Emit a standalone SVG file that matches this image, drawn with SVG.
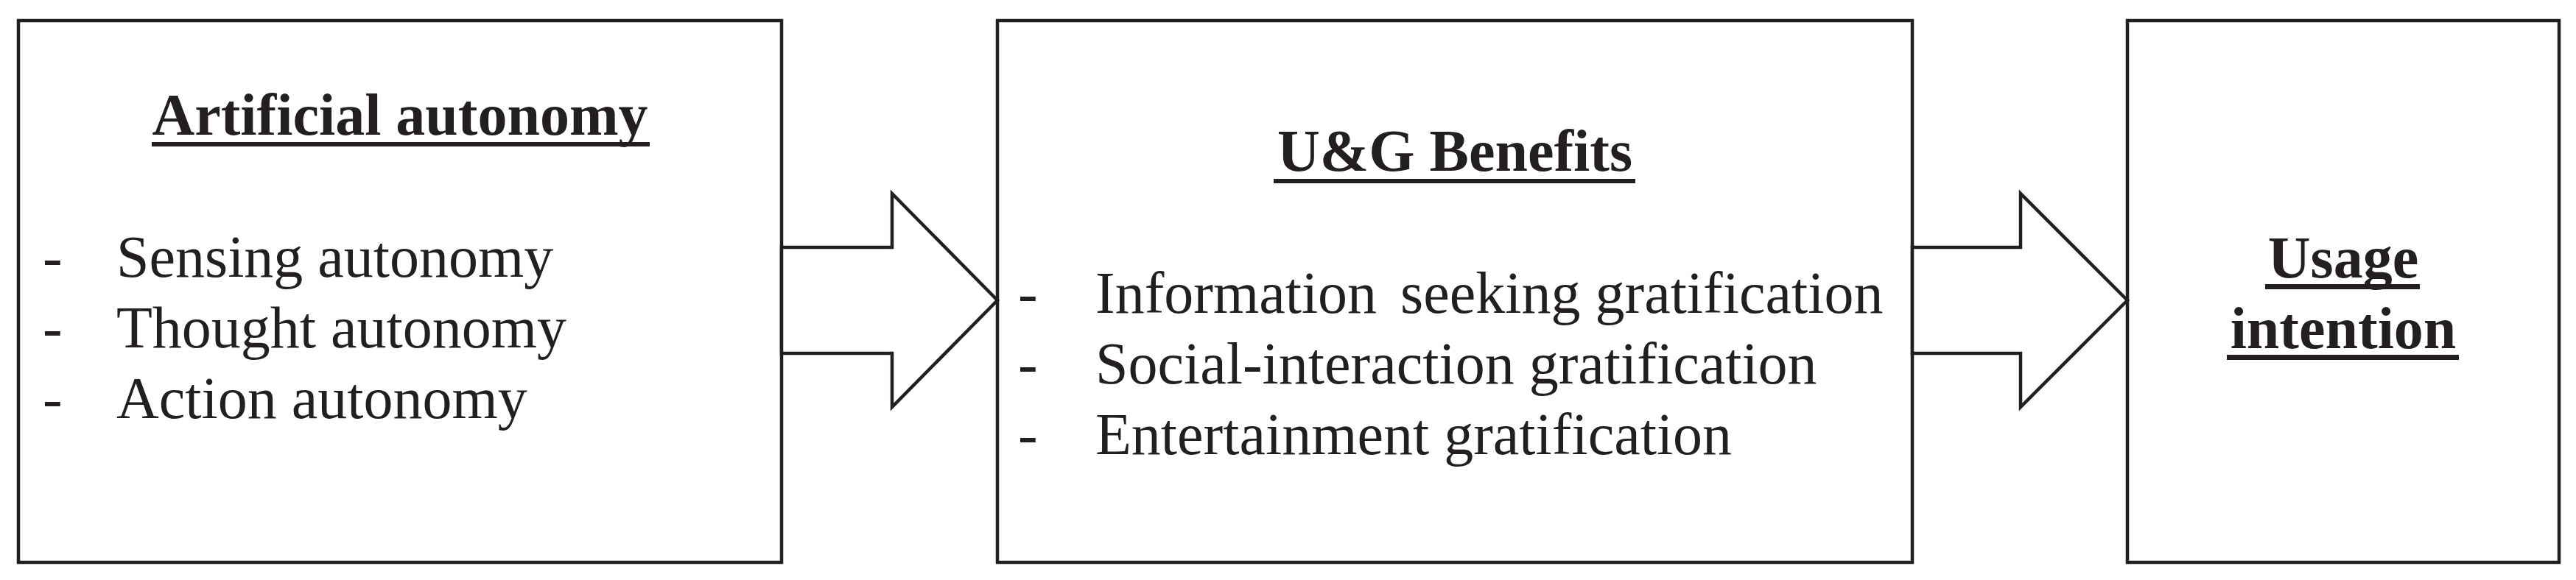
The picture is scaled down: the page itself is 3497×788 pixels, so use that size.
<svg xmlns="http://www.w3.org/2000/svg" width="3497" height="788" viewBox="0 0 3497 788">
  <style>
    .box { fill: #ffffff; stroke: #231f20; stroke-width: 4.5; }
    .arrow { fill: #ffffff; stroke: #231f20; stroke-width: 4.5; stroke-linejoin: miter; }
    .title { font-family: "Liberation Serif", "Times New Roman", serif; font-size: 80px; font-weight: bold; fill: #231f20; text-anchor: middle; }
    .item { font-family: "Liberation Serif", "Times New Roman", serif; font-size: 80px; fill: #231f20; }
    .ul { fill: #231f20; }
  </style>
  <rect x="0" y="0" width="3497" height="788" fill="#ffffff"/>

  <g id="node-artificial-autonomy">
    <rect class="box" x="25" y="28" width="1036" height="736"/>
    <text class="title" x="543" y="183">Artificial autonomy</text>
    <rect class="ul" x="206" y="193" width="676" height="6"/>
    <text class="item" x="58" y="376">-</text>
    <text class="item" x="158" y="376">Sensing autonomy</text>
    <text class="item" x="58" y="472">-</text>
    <text class="item" x="158" y="472">Thought autonomy</text>
    <text class="item" x="58" y="568">-</text>
    <text class="item" x="158" y="568">Action autonomy</text>
  </g>

  <g id="node-ug-benefits">
    <rect class="box" x="1354" y="28" width="1242" height="736"/>
    <text class="title" x="1975" y="232">U&amp;G Benefits</text>
    <rect class="ul" x="1729" y="243" width="491" height="6"/>
    <text class="item" x="1382" y="425">-</text>
    <text class="item" x="1487" y="425">Information <tspan dx="12">seeking gratification</tspan></text>
    <text class="item" x="1382" y="521">-</text>
    <text class="item" x="1487" y="521">Social-interaction gratification</text>
    <text class="item" x="1382" y="617">-</text>
    <text class="item" x="1487" y="617">Entertainment gratification</text>
  </g>

  <g id="node-usage-intention">
    <rect class="box" x="2888" y="28" width="586" height="736"/>
    <text class="title" x="3181" y="377">Usage</text>
    <rect class="ul" x="3075" y="386" width="210" height="7"/>
    <text class="title" x="3181" y="473">intention</text>
    <rect class="ul" x="3023" y="482" width="315" height="7"/>
  </g>

  <g id="connectors">
    <polygon class="arrow" points="1061,336 1211,336 1211,263 1354,408 1211,553 1211,480 1061,480"/>
    <polygon class="arrow" points="2596,336 2743,336 2743,263 2888,408 2743,553 2743,480 2596,480"/>
  </g>
</svg>
